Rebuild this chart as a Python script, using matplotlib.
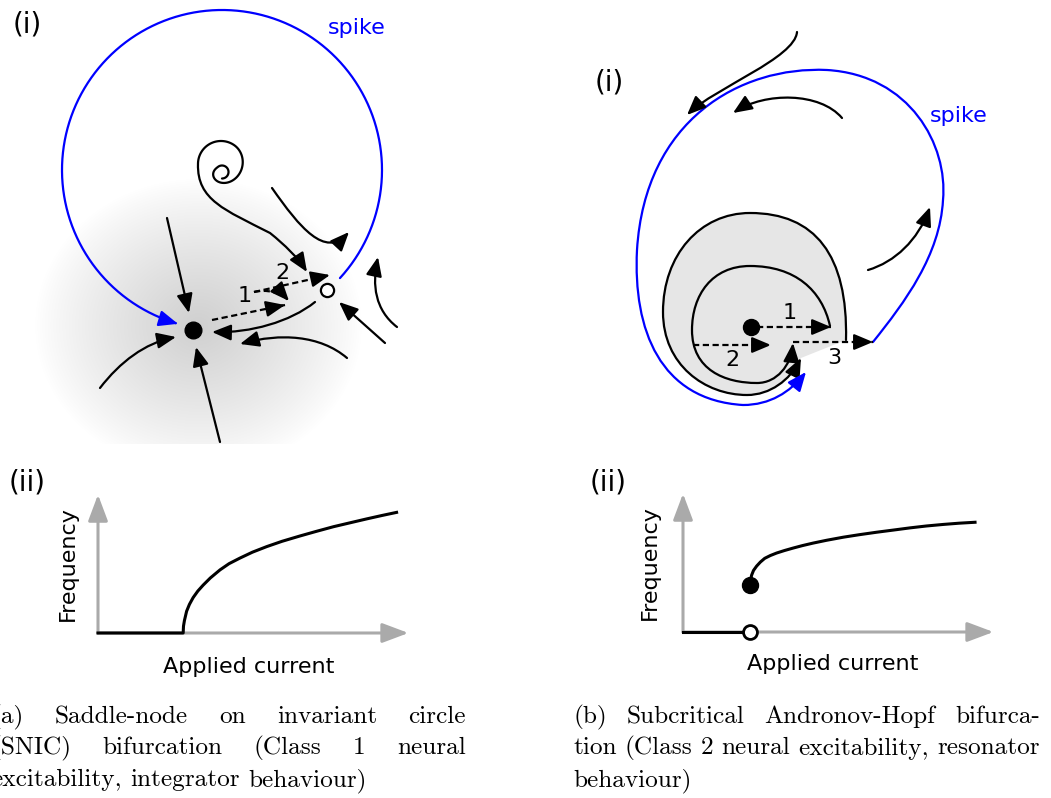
import numpy as np
import matplotlib
matplotlib.use("Agg")
import matplotlib.pyplot as plt
from matplotlib.path import Path
from matplotlib.patches import FancyArrowPatch, PathPatch

W, H = 1051, 798

# frequency vs applied current (arbitrary units, current 0-10)
snic_current = [0.0, 2.73, 2.74, 2.77, 2.84, 2.93, 3.05, 3.20, 3.37, 3.60, 3.91, 4.20,
                4.55, 4.95, 5.41, 5.90, 6.47, 7.00, 7.55, 8.10, 8.61, 9.10, 9.57]
snic_freq = [0.0, 0.0, 0.22, 0.40, 0.70, 0.92, 1.14, 1.35, 1.54, 1.77, 2.03, 2.23,
             2.41, 2.60, 2.78, 2.95, 3.12, 3.27, 3.42, 3.55, 3.67, 3.78, 3.88]
hopf_rest_current = [0.0, 2.15]
hopf_rest_freq = [0.0, 0.0]
hopf_current = [2.15, 2.16, 2.20, 2.26, 2.36, 2.48, 2.62, 2.80, 3.00, 3.25, 3.53, 3.83,
                4.17, 4.60, 5.14, 5.65, 6.21, 6.75, 7.28, 7.80, 8.34, 8.85, 9.36]
hopf_freq = [1.51, 1.65, 1.83, 1.98, 2.12, 2.25, 2.37, 2.46, 2.54, 2.62, 2.70, 2.78,
             2.86, 2.95, 3.05, 3.13, 3.21, 3.28, 3.35, 3.41, 3.46, 3.50, 3.53]

x_label = "Applied current"
y_label = "Frequency"
caption_a = ["(a) Saddle-node on invariant circle",
             "(SNIC) bifurcation (Class 1 neural",
             "excitability, integrator behaviour)"]
caption_b = ["(b) Subcritical Andronov-Hopf bifurca-",
             "tion (Class 2 neural excitability, resonator",
             "behaviour)"]

BLUE = "#0000ff"
GREY = "#aaaaaa"

fig = plt.figure(figsize=(W / 100, H / 100), dpi=100)
ax = fig.add_axes([0, 0, 1, 1])
ax.set_xlim(0, W)
ax.set_ylim(H, 0)
ax.axis("off")


def bezier(*pts):
    pts = np.asarray(pts, float)
    return Path(pts, [Path.MOVETO] + [Path.CURVE4] * (len(pts) - 1))


def arrow(path, color="black", lw=1.6, z=3):
    ax.add_patch(FancyArrowPatch(path=path, color=color, lw=lw, zorder=z,
                                 arrowstyle="-|>,head_length=1.0,head_width=0.42",
                                 mutation_scale=11.5))


def dashed_arrow(path):
    ax.add_patch(PathPatch(path, fill=False, lw=1.6, ls=(0, (2.8, 1.6)),
                           color="black", zorder=3))
    v = path.vertices
    d = v[-1] - v[-2]
    d = d / np.hypot(*d)
    arrow(Path([v[-1] - 3 * d, v[-1]]))


def label(x, y, s, size=16, color="black", **kw):
    ax.text(x, y, s, fontsize=size, color=color, ha="center", va="center", **kw)


# ---------- (a)(i) SNIC phase portrait ----------
gx, gy = np.meshgrid(np.arange(20, 400), np.arange(160, 444))
dist = np.hypot((gx - 198) / 165, (gy - 325) / 148)
shade = np.zeros(gx.shape + (4,))
shade[..., 3] = 0.19 * np.clip(1 - dist, 0, 1) ** 0.85
ax.imshow(shade, extent=(20, 400, 444, 160), origin="upper",
          interpolation="bilinear", zorder=0, aspect="auto")
ax.set_xlim(0, W)
ax.set_ylim(H, 0)

# spike orbit
t = np.deg2rad(np.linspace(42.5, -254, 400))
arrow(Path(np.column_stack([222 + 160 * np.cos(t), 170 + 160 * np.sin(t)])), color=BLUE)

# spiral leaving the unstable focus
phi = np.linspace(0, 1.75, 400)
s = np.clip((phi - 0.6) / 0.8, 0, 1)
s = s * s * (3 - 2 * s)
th = np.deg2rad(90) - 2 * np.pi * phi
r = 6.5 + 16.5 * s
spiral = np.column_stack([222 - s + r * np.cos(th), 172 - 8 * s + r * np.sin(th)])
tail = np.array([(197, 200), (225, 210), (270, 233), (285, 245), (298, 258), (307, 272)])
verts = np.vstack([spiral, tail])
codes = [Path.MOVETO] + [Path.LINETO] * (len(spiral) - 1) + [Path.CURVE4] * len(tail)
arrow(Path(verts, codes))

arrow(bezier((272, 188), (300, 228), (325, 258), (349, 232)))
arrow(bezier((397, 327), (375, 310), (372, 285), (378, 257)))
arrow(Path([(385, 343), (339, 302)]))
arrow(bezier((347, 358), (320, 335), (280, 333), (240, 344)))
arrow(bezier((315, 302), (290, 322), (250, 333), (212, 332)))
arrow(Path([(167, 218), (189, 313)]))
arrow(bezier((100, 388), (120, 362), (145, 343), (176, 337)))
arrow(Path([(220, 442), (196, 347)]))

dashed_arrow(Path([(212, 320), (285, 305)]))
dashed_arrow(bezier((254, 292), (266, 289), (281, 292), (289, 301)))
dashed_arrow(Path([(254, 292), (330, 275)]))

ax.plot([193], [330], "o", ms=12, color="black", zorder=4)
ax.plot([327], [290], "o", ms=9.5, mfc="white", mec="black", mew=1.6, zorder=4)

label(27, 25, "(i)", size=20)
label(357, 28, "spike", color=BLUE)
label(245, 296, "1")
label(282, 273, "2")

# ---------- (b)(i) subcritical Hopf phase portrait ----------
outer = [(846, 340), (848, 255), (815, 213), (750, 213), (700, 213), (663, 255),
         (663, 312), (663, 365), (705, 395), (747, 395), (770, 395), (790, 380),
         (801, 358)]
region = Path(outer + [(846, 340), (846, 340)],
              [Path.MOVETO] + [Path.CURVE4] * 12 + [Path.LINETO, Path.CLOSEPOLY])
ax.add_patch(PathPatch(region, facecolor="#e6e6e6", edgecolor="none", zorder=1))
arrow(bezier(*outer))
arrow(bezier((830, 326), (822, 290), (795, 266), (750, 266), (712, 266), (692, 295),
             (692, 330), (692, 370), (725, 383), (757, 383), (777, 383), (791, 365),
             (793, 343)))

arrow(bezier((873, 342), (905, 302), (940, 255), (943, 200), (948, 145), (910, 75),
             (827, 70), (740, 66), (645, 120), (637, 250), (633, 330), (660, 400),
             (743, 405), (770, 405), (790, 392), (806, 372)), color=BLUE)

arrow(bezier((797, 32), (795, 58), (715, 88), (687, 115)))
arrow(bezier((842, 118), (820, 92), (765, 92), (733, 113)))
arrow(bezier((868, 270), (895, 262), (918, 240), (930, 207)))

dashed_arrow(Path([(757, 327), (831, 327)]))
dashed_arrow(Path([(693, 345), (771, 345)]))
dashed_arrow(Path([(793, 342), (873, 342)]))
ax.plot([751], [327], "o", ms=11.5, color="black", zorder=4)

label(609, 82, "(i)", size=20)
label(959, 116, "spike", color=BLUE)
label(790, 313, "1")
label(732, 360, "2")
label(834, 358, "3")


# ---------- (ii) frequency-current curves ----------
def fi_axes(left_px, base_px):
    a = fig.add_axes([left_px / W, 1 - base_px / H, 312 / W, 143 / H])
    a.set_xlim(0, 10)
    a.set_ylim(0, 4.6)
    a.axis("off")
    for tip in [(9.95, 0), (0, 4.45)]:
        a.annotate("", xy=tip, xytext=(0, 0),
                   arrowprops=dict(arrowstyle="-|>,head_length=0.8,head_width=0.3",
                                   mutation_scale=20, color=GREY, lw=2.2,
                                   shrinkA=0, shrinkB=0))
    return a


fa = fi_axes(98, 633)
fa.plot(snic_current, snic_freq, color="black", lw=2.2, clip_on=False, zorder=3)

fb = fi_axes(683, 632)
fb.plot(hopf_rest_current, hopf_rest_freq, color="black", lw=2.2, clip_on=False, zorder=3)
fb.plot(hopf_current, hopf_freq, color="black", lw=2.2, clip_on=False, zorder=3)
fb.plot([hopf_current[0]], [hopf_freq[0]], "o", ms=11.5, color="black", clip_on=False, zorder=4)
fb.plot([hopf_rest_current[-1]], [hopf_rest_freq[-1]], "o", ms=10, mfc="white",
        mec="black", mew=2, clip_on=False, zorder=4)

label(27, 483, "(ii)", size=20)
label(68, 564, y_label, rotation=90)
label(249, 667, x_label)
label(608, 483, "(ii)", size=20)
label(650, 563, y_label, rotation=90)
label(833, 664, x_label)


# ---------- captions, justified like the typeset text ----------
def caption(lines, left, right, y0, dy=31.5, size=18.2):
    rend = fig.canvas.get_renderer()
    space = 0.333 * size * 100 / 72
    for i, line in enumerate(lines):
        words = line.split()
        y = y0 + i * dy
        texts = [ax.text(0, y, w, fontsize=size, family="cmr10", ha="left",
                         va="baseline") for w in words]
        widths = [tx.get_window_extent(rend).width for tx in texts]
        if i < len(lines) - 1:
            gap = (right - left - sum(widths)) / (len(words) - 1)
        else:
            gap = space
        x = left
        for tx, w in zip(texts, widths):
            tx.set_x(x)
            x += w + gap


caption(caption_a, -9, 466, 723)
caption(caption_b, 573, 1040, 723)

fig.savefig("out.png", dpi=100)
